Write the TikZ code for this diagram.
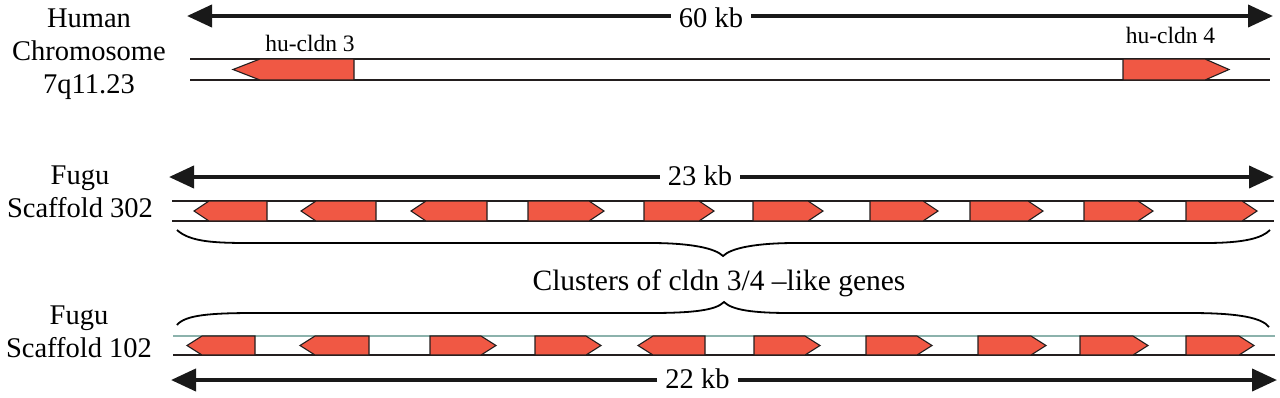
\documentclass[tikz,border=0pt]{standalone}
\usepackage{fontspec}
\setmainfont{Liberation Serif}
\usetikzlibrary{arrows.meta}
\definecolor{genered}{RGB}{240,88,68}
\definecolor{tealline}{RGB}{140,178,172}
\definecolor{outl}{RGB}{35,30,30}
% right-pointing gene: left end, tip, top, bottom, point length
\newcommand{\geneR}[5]{\filldraw[gene] (#1,#3) -- (#2-#5,#3) -- (#2,{(#3+#4)/2}) -- (#2-#5,#4) -- (#1,#4) -- cycle;}
% left-pointing gene: tip, right end, top, bottom, point length
\newcommand{\geneL}[5]{\filldraw[gene] (#2,#3) -- (#1+#5,#3) -- (#1,{(#3+#4)/2}) -- (#1+#5,#4) -- (#2,#4) -- cycle;}
\tikzset{
  gene/.style={fill=genered, draw=outl, line width=1.1pt, line join=miter},
  chrom/.style={draw=outl, line width=1.4pt},
  tealchrom/.style={draw=tealline, line width=2pt},
  dimarrow/.style={line width=4pt, draw=black!90, -{Triangle[length=25pt,width=22pt]}},
  kb/.style={font=\fontsize{28.5}{34}\selectfont, inner xsep=8pt, inner ysep=0pt},
  lbl/.style={font=\fontsize{28.5}{33}\selectfont, align=center, inner sep=0pt},
  glbl/.style={font=\fontsize{23.5}{28}\selectfont, inner sep=0pt},
  bracepath/.style={draw=black, line width=1.8pt},
}
\begin{document}
\begin{tikzpicture}[x=1pt,y=-1pt]
\useasboundingbox (0,0) rectangle (1280,397);

% ---------- Row 1: Human chromosome ----------
\node[lbl] (hum) at (89,54) {Human\\Chromosome\\7q11.23};
\coordinate (a1l) at (187,16);
\coordinate (a1r) at (1273,16);
\node[kb] (k60) at (711,17.5) {60 kb};
\draw[dimarrow] (k60.west |- a1l) -- (a1l);
\draw[dimarrow] (k60.east |- a1r) -- (a1r);
\draw[chrom] (190,59) -- (1270,59);
\draw[chrom] (190,80) -- (1270,80);
\geneL{233}{354}{59}{80}{27}
\geneR{1123}{1229}{59}{80}{24}
\node[glbl] (h3) at (310,43.5) {hu-cldn 3};
\node[glbl] (h4) at (1170.5,35.5) {hu-cldn 4};

% ---------- Row 2: Fugu scaffold 302 ----------
\node[lbl] (f302) at (80,192) {Fugu\\Scaffold 302};
\coordinate (a2l) at (169,177);
\coordinate (a2r) at (1274,177);
\node[kb] (k23) at (700,176) {23 kb};
\draw[dimarrow] (k23.west |- a2l) -- (a2l);
\draw[dimarrow] (k23.east |- a2r) -- (a2r);
\draw[chrom] (172,201) -- (1274,201);
\draw[chrom] (172,221) -- (1274,221);
\geneL{194}{267}{201}{221}{15}
\geneL{301}{376}{201}{221}{15}
\geneL{411}{487}{201}{221}{15}
\geneR{528}{604}{201}{221}{15}
\geneR{644}{714}{201}{221}{15}
\geneR{753}{823}{201}{221}{15}
\geneR{870}{938}{201}{221}{15}
\geneR{970}{1043}{201}{221}{15}
\geneR{1084}{1153}{201}{221}{15}
\geneR{1186}{1257}{201}{221}{15}
\draw[bracepath] (177,230) .. controls (190,242) and (215,243) .. (250,243) -- (650,243)
  .. controls (690,243) and (715,248) .. (723,256)
  .. controls (731,248) and (756,243) .. (796,243) -- (1205,243)
  .. controls (1245,243) and (1262,238) .. (1270,230);

\node[font=\fontsize{29.5}{34}\selectfont, inner sep=0pt] (clu) at (719,283.5) {Clusters of cldn 3/4 –like genes};

% ---------- Row 3: Fugu scaffold 102 ----------
\draw[bracepath] (177,325) .. controls (185,315) and (210,313) .. (255,313) -- (650,313)
  .. controls (695,313) and (716,310) .. (724,302)
  .. controls (732,310) and (753,313) .. (790,313) -- (1190,313)
  .. controls (1240,313) and (1262,318) .. (1269,327);
\node[lbl] (f102) at (79,332) {Fugu\\Scaffold 102};
\draw[tealchrom] (173,336) -- (1275,336);
\draw[chrom] (173,355) -- (1275,355);
\geneL{187}{255}{336}{355}{15}
\geneL{300}{369}{336}{355}{15}
\geneR{430}{496}{336}{355}{15}
\geneR{535}{601}{336}{355}{15}
\geneL{638}{705}{336}{355}{15}
\geneR{754}{820}{336}{355}{15}
\geneR{866}{932}{336}{355}{15}
\geneR{978}{1046}{336}{355}{15}
\geneR{1080}{1148}{336}{355}{15}
\geneR{1186}{1254}{336}{355}{15}
\coordinate (a3l) at (171,380);
\coordinate (a3r) at (1277,380);
\node[kb] (k22) at (697.5,378.5) {22 kb};
\draw[dimarrow] (k22.west |- a3l) -- (a3l);
\draw[dimarrow] (k22.east |- a3r) -- (a3r);
\end{tikzpicture}
\end{document}
